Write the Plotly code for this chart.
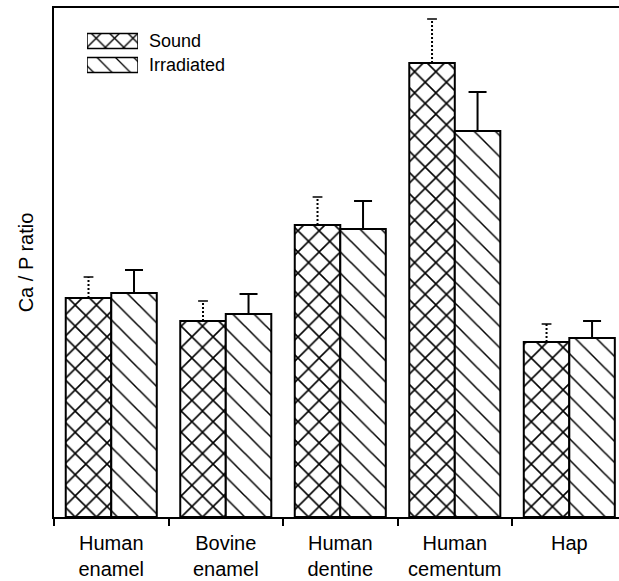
import plotly.graph_objects as go

# ---- data (arbitrary units, no y tick labels) ----
categories = ["Human<br>enamel", "Bovine<br>enamel", "Human<br>dentine", "Human<br>cementum", "Hap"]
sound = [2.19, 1.96, 2.92, 4.54, 1.75]
sound_err = [0.21, 0.20, 0.28, 0.44, 0.18]
irradiated = [2.24, 2.03, 2.88, 3.86, 1.79]
irradiated_err = [0.23, 0.20, 0.28, 0.39, 0.17]
legend_labels = ["Irradiated", "Sound"]
legend_shapes = ["\\", "x"]

FONT = "Arial, Liberation Sans, Helvetica, sans-serif"
BARGAP = 0.205
XRANGE = [-0.5, 4.434]
YRANGE = [0, 5.09]

fig = go.Figure()

fig.add_trace(go.Bar(
    x=categories, y=sound, name="Sound", showlegend=False,
    marker=dict(color="black", line=dict(color="black", width=2),
                pattern=dict(shape="x", size=15, solidity=0.2, fillmode="replace",
                             fgcolor="black", fgopacity=1, bgcolor="white")),
))
fig.add_trace(go.Bar(
    x=categories, y=irradiated, name="Irradiated", showlegend=False,
    marker=dict(color="black", line=dict(color="black", width=2),
                pattern=dict(shape="\\", size=15, solidity=0.1, fillmode="replace",
                             fgcolor="black", fgopacity=1, bgcolor="white")),
    error_y=dict(type="data", array=irradiated_err, arrayminus=[0] * len(irradiated_err),
                 symmetric=False, color="black", thickness=2, width=9),
))

# dotted error bars for the "Sound" series, drawn on an overlaid numeric axis
half = (1 - BARGAP) / 4  # centre offset of the first bar in each group
ex, ey, cx, cy = [], [], [], []
for i, (v, e) in enumerate(zip(sound, sound_err)):
    ex += [i - half, i - half, None]
    ey += [v, v + e, None]
    cx.append(i - half)
    cy.append(v + e)
fig.add_trace(go.Scatter(
    x=ex, y=ey, xaxis="x3", yaxis="y", mode="lines", showlegend=False,
    line=dict(color="black", width=2, dash="2px,2px"), hoverinfo="skip",
))
fig.add_trace(go.Scatter(
    x=cx, y=cy, xaxis="x3", yaxis="y", mode="markers", showlegend=False,
    marker=dict(symbol="line-ew", size=7, line=dict(color="black", width=1.5)),
    hoverinfo="skip",
))

# legend boxes (drawn with the library on a small auxiliary axis)
fig.add_trace(go.Bar(
    x=[1, 1], y=legend_labels, orientation="h", xaxis="x2", yaxis="y2",
    width=0.625, showlegend=False, hoverinfo="skip",
    marker=dict(color="black", line=dict(color="black", width=1.5),
                pattern=dict(shape=legend_shapes, size=13, solidity=[0.1, 0.2],
                             fillmode="replace", fgcolor="black", fgopacity=1,
                             bgcolor="white")),
))

fig.update_layout(
    width=619, height=581,
    margin=dict(l=54, r=0, t=8, b=64),
    paper_bgcolor="white", plot_bgcolor="white",
    barmode="group", bargap=BARGAP,
    font=dict(family=FONT, color="black"),
    xaxis=dict(
        type="category", range=XRANGE, showline=True, linecolor="black", linewidth=2,
        mirror=True, ticks="outside", tickson="boundaries", ticklen=7, tickwidth=2,
        tickcolor="black", showgrid=False, zeroline=False, ticklabelstandoff=7,
        tickfont=dict(size=20, family=FONT, color="black"),
    ),
    xaxis3=dict(overlaying="x", range=XRANGE, visible=False),
    yaxis=dict(
        range=YRANGE, showline=True, linecolor="black", linewidth=2,
        showticklabels=False, ticks="", showgrid=False, zeroline=False,
        title=dict(text="Ca / P ratio", font=dict(size=20, family=FONT), standoff=13),
    ),
    xaxis2=dict(domain=[0.0584, 0.1487], range=[0, 1], anchor="y2", visible=False),
    yaxis2=dict(
        domain=[0.8644, 0.9587], range=[-0.5, 1.5], anchor="x2", side="right",
        showline=False, showgrid=False, zeroline=False, ticks="",
        ticklabelstandoff=10,
        tickfont=dict(size=18, family=FONT, color="black"),
    ),
)

fig.write_html("out.html")
